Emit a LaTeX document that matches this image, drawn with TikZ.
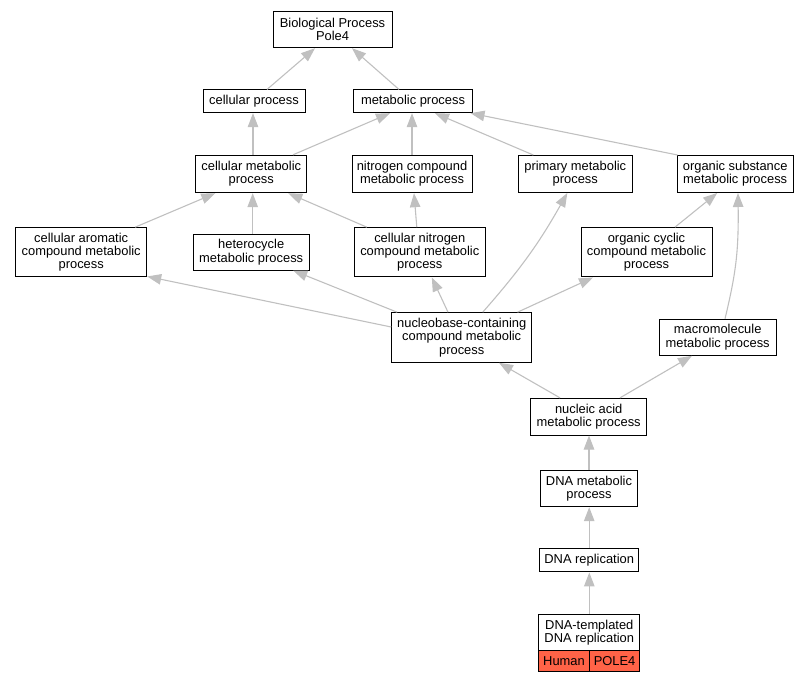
\documentclass[tikz,border=0pt]{standalone}
\usepackage{fontspec}
\setmainfont{Liberation Sans}
\usetikzlibrary{arrows.meta,calc}
\definecolor{edgec}{HTML}{C0C0C0}
\definecolor{tomatoc}{HTML}{FF6347}
\begin{document}
\begin{tikzpicture}[x=1pt,y=-1pt,
  gobox/.style={draw=black, line width=1pt, fill=white, inner sep=0pt, align=center,
    font=\fontsize{12.9}{13.3}\selectfont},
  genecell/.style={gobox, fill=tomatoc, minimum width=50.6pt, minimum height=21.3pt},
  isa/.style={draw=edgec, line width=1.1pt, -{Triangle[length=14pt,width=10.5pt]}}]
\useasboundingbox (0,0) rectangle (808,683);

% nodes
\node[gobox, minimum width=119pt, minimum height=36pt] (bp) at (332.5,29.7) {Biological Process\\Pole4};
\node[gobox, minimum width=102pt, minimum height=22.7pt] (cp) at (254,101.3) {cellular process};
\node[gobox, minimum width=119.4pt, minimum height=22.7pt] (mp) at (413,101.3) {metabolic process};
\node[gobox, minimum width=110.7pt, minimum height=37.4pt] (cmp) at (251.3,174) {cellular metabolic\\process};
\node[gobox, minimum width=120pt, minimum height=37.4pt] (ncmp) at (412,174) {nitrogen compound\\metabolic process};
\node[gobox, minimum width=114pt, minimum height=37pt] (pmp) at (575.3,174) {primary metabolic\\process};
\node[gobox, minimum width=116.3pt, minimum height=37pt] (osmp) at (735.2,174) {organic substance\\metabolic process};
\node[gobox, minimum width=131pt, minimum height=49.3pt] (camp) at (81.2,252.3) {cellular aromatic\\compound metabolic\\process};
\node[gobox, minimum width=116.3pt, minimum height=35.7pt] (hmp) at (251.2,252.2) {heterocycle\\metabolic process};
\node[gobox, minimum width=131pt, minimum height=49.3pt] (cncmp) at (419.8,252.3) {cellular nitrogen\\compound metabolic\\process};
\node[gobox, minimum width=131pt, minimum height=49.3pt] (occmp) at (646.5,252.3) {organic cyclic\\compound metabolic\\process};
\node[gobox, minimum width=140pt, minimum height=49.6pt] (nbc) at (461.7,337.5) {nucleobase-containing\\compound metabolic\\process};
\node[gobox, minimum width=116.7pt, minimum height=36pt] (mmp) at (717.7,337.3) {macromolecule\\metabolic process};
\node[gobox, minimum width=116pt, minimum height=36.7pt] (namp) at (588.7,416.7) {nucleic acid\\metabolic process};
\node[gobox, minimum width=96.6pt, minimum height=36pt] (dmp) at (589,488.7) {DNA metabolic\\process};
\node[gobox, minimum width=99pt, minimum height=23.3pt] (drep) at (589.2,560.3) {DNA replication};
\node[gobox, minimum width=101.3pt, minimum height=36.4pt] (dtr) at (589.3,632.5) {DNA-templated\\DNA replication};
\node[genecell] (human) at (564,661.3) {Human};
\node[genecell] (pole) at (614.6,661.3) {POLE4};

% edges
\draw[isa] ([xshift=13pt]cp.north) -- ([xshift=-17.5pt]bp.south);
\draw[isa] ([xshift=-14pt]mp.north) -- ([xshift=19.5pt]bp.south);
\draw[isa] ([xshift=1.7pt]cmp.north) -- ([xshift=-1pt]cp.south);
\draw[isa] ([xshift=41.7pt]cmp.north) -- ([xshift=-23pt]mp.south);
\draw[isa] (ncmp.north) -- ([xshift=-1pt]mp.south);
\draw[isa] ([xshift=-42pt]pmp.north) -- ([xshift=22pt]mp.south);
\draw[isa] ([xshift=1pt]osmp.north west) -- ([xshift=-2.7pt]mp.south east);
\draw[isa] ([xshift=54pt]camp.north) -- ([xshift=-36pt]cmp.south);
\draw[isa] ([xshift=1.5pt]hmp.north) -- ([xshift=1.4pt]cmp.south);
\draw[isa] ([xshift=-53pt]cncmp.north) -- ([xshift=37pt]cmp.south);
\draw[isa] ([xshift=-3pt]cncmp.north) -- ([xshift=2pt]ncmp.south);
\draw[isa] ([yshift=10.5pt]nbc.west) -- ([yshift=1pt]camp.south east);
\draw[isa] ([xshift=6pt]nbc.north west) -- ([xshift=42pt]hmp.south);
\draw[isa] ([xshift=-13.7pt]nbc.north) -- ([xshift=12pt]cncmp.south);
\draw[isa] ([xshift=21pt]nbc.north) to[bend right=6] ([xshift=-8pt]pmp.south);
\draw[isa] ([xshift=-14.7pt]nbc.north east) -- ([xshift=-53.5pt]occmp.south);
\draw[isa] ([xshift=28.5pt]occmp.north) -- ([xshift=-18pt]osmp.south);
\draw[isa] ([xshift=7.3pt]mmp.north) .. controls ([xshift=18pt,yshift=45pt]mmp.north) and ([xshift=3.5pt,yshift=-60pt]osmp.south) .. ([xshift=2.8pt]osmp.south);
\draw[isa] ([xshift=-28.7pt]namp.north) -- ([xshift=37.3pt]nbc.south);
\draw[isa] ([xshift=31.3pt]namp.north) -- ([xshift=-25.7pt]mmp.south);
\draw[isa] (dmp.north) -- (namp.south -| dmp.north);
\draw[isa] (drep.north) -- (dmp.south -| drep.north);
\draw[isa] (dtr.north) -- (drep.south -| dtr.north);
\end{tikzpicture}
\end{document}
